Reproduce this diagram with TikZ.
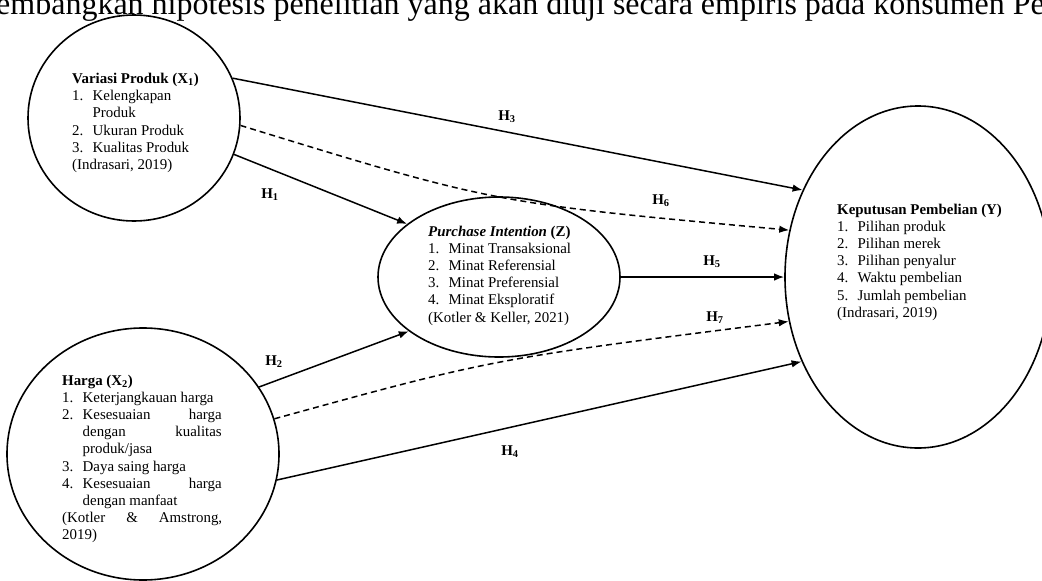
\documentclass[tikz,border=0pt]{standalone}
\usepackage{fontspec}
\setmainfont{Liberation Serif}
\usetikzlibrary{arrows.meta,shapes.geometric}
\newcommand\itm[2]{\makebox[20.5pt][l]{#1}#2}
\newcommand\cont[1]{\hspace*{20.5pt}#1}
\begin{document}
\begin{tikzpicture}[x=1pt,y=-1pt,
  circ/.style={draw, ellipse, line width=1.6pt, inner sep=0pt},
  txt/.style={anchor=base west, inner sep=0pt, font=\fontsize{14.9}{17.2}\selectfont},
  lbl/.style={inner sep=0pt, font=\fontsize{14.9}{17.2}\selectfont\bfseries},
  arr/.style={line width=1.5pt, -{Latex[length=10pt,width=7.5pt]}},
  dsh/.style={arr, dash pattern=on 6pt off 4pt}]
\useasboundingbox (0,0) rectangle (1042,581);
\clip (0,0) rectangle (1042,581);
\fill[white] (0,0) rectangle (1042,581);

\node[anchor=base west, inner sep=0pt, font=\fontsize{32}{38}\selectfont] (top) at (-4,14)
  {embangkan hipotesis penelitian yang akan diuji secara empiris pada konsumen Pe};

\node[circ, minimum width=212pt, minimum height=206pt] (x1) at (134,118) {};
\node[circ, minimum width=272pt, minimum height=252pt] (x2) at (143,454) {};
\node[circ, minimum width=242pt, minimum height=160pt] (z) at (499,277) {};
\node[circ, minimum width=266pt, minimum height=342pt] (y) at (918,277) {};

\node[txt] (x1t) at (72,83.5) {\parbox[t]{165pt}{\textbf{Variasi Produk (X\textsubscript{1})}\\
  \itm{1.}{Kelengkapan}\\ \cont{Produk}\\ \itm{2.}{Ukuran Produk}\\ \itm{3.}{Kualitas Produk}\\ (Indrasari, 2019)}};

\node[txt] (x2t) at (62,385) {\parbox[t]{170pt}{\textbf{Harga (X\textsubscript{2})}\\
  \itm{1.}{Keterjangkauan harga}\\
  \itm{2.}{\makebox[139pt][s]{Kesesuaian\hfill harga}}\\
  \cont{\makebox[139pt][s]{dengan\hfill kualitas}}\\
  \cont{produk/jasa}\\
  \itm{3.}{Daya saing harga}\\
  \itm{4.}{\makebox[139pt][s]{Kesesuaian\hfill harga}}\\
  \cont{dengan manfaat}\\
  \makebox[160pt][s]{(Kotler\hfill\&\hfill Amstrong,}\\
  2019)}};

\node[txt] (zt) at (428,236) {\parbox[t]{180pt}{\textbf{\textit{Purchase Intention} (Z)}\\
  \itm{1.}{Minat Transaksional}\\ \itm{2.}{Minat Referensial}\\ \itm{3.}{Minat Preferensial}\\
  \itm{4.}{Minat Eksploratif}\\ (Kotler \& Keller, 2021)}};

\node[txt] (yt) at (837,214) {\parbox[t]{190pt}{\textbf{Keputusan Pembelian (Y)}\\
  \itm{1.}{Pilihan produk}\\ \itm{2.}{Pilihan merek}\\ \itm{3.}{Pilihan penyalur}\\
  \itm{4.}{Waktu pembelian}\\ \itm{5.}{Jumlah pembelian}\\ (Indrasari, 2019)}};

\draw[arr] (x1.22) -- (y.143.5);
\draw[dsh] (x1.-4) .. controls (493,203) .. (y.160);
\draw[arr] (x1.-20) -- (z.150);
\draw[arr] (z.east) -- (y.west);
\draw[arr] (x2.30) -- (z.211);
\draw[dsh] (x2.15) .. controls (492,359) .. (y.199);
\draw[arr] (x2.-11) -- (y.216);

\node[lbl] (h3) at (507,117) {H\textsubscript{3}};
\node[lbl] (h1) at (270,195) {H\textsubscript{1}};
\node[lbl] (h6) at (661,201) {H\textsubscript{6}};
\node[lbl] (h5) at (712,262) {H\textsubscript{5}};
\node[lbl] (h7) at (715,318) {H\textsubscript{7}};
\node[lbl] (h2) at (274,362) {H\textsubscript{2}};
\node[lbl] (h4) at (510,452) {H\textsubscript{4}};
\end{tikzpicture}
\end{document}
